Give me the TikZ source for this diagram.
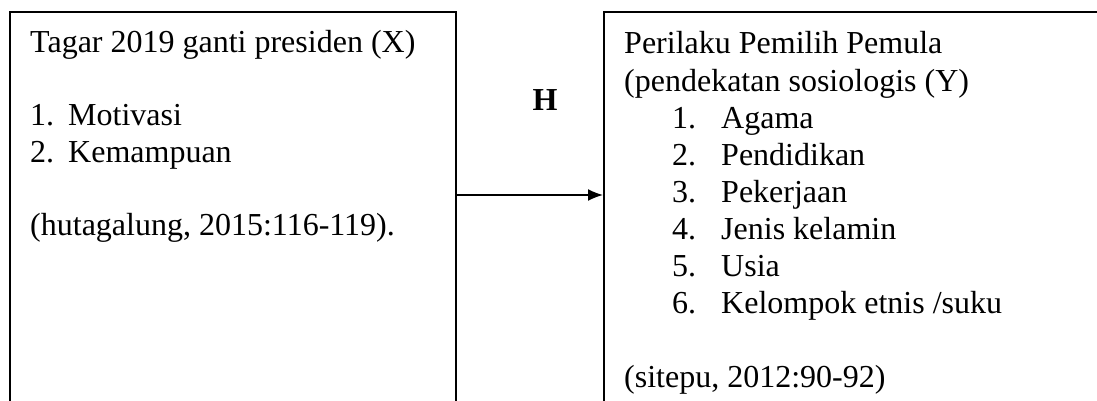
\documentclass[tikz,border=0pt]{standalone}
\usepackage{fontspec}
\setmainfont{Liberation Serif}
\usetikzlibrary{arrows.meta, positioning}

\begin{document}
\begin{tikzpicture}[
    x=1pt, y=1pt,
    every node/.style={font=\fontsize{32}{37}\selectfont, inner sep=0pt},
    box/.style={draw, rectangle, line width=1.6pt, anchor=north west},
    txt/.style={anchor=base west},
    conn/.style={line width=1.6pt, -{Latex[length=15pt, width=12pt]}}
]
\useasboundingbox (0,0) rectangle (1097,400);
\clip (0,0) rectangle (1097,400);

% Boxes (running past the bottom edge)
\node[box, minimum width=446pt, minimum height=420pt] (xbox) at (9,389) {};
\node[box, minimum width=540pt, minimum height=420pt] (ybox) at (603,389) {};

% Variable X
\node[txt] (xtitle) at (30,348) {Tagar 2019 ganti presiden (X)};
\node[txt] (xn1) at (30,275) {1.};
\node[txt] (xi1) at (68,275) {Motivasi};
\node[txt] (xn2) at (30,238) {2.};
\node[txt] (xi2) at (68,238) {Kemampuan};
\node[txt] (xsrc) at (30,165) {(hutagalung, 2015:116-119).};

% Variable Y
\node[txt] (ytitle) at (624,346) {Perilaku Pemilih Pemula};
\node[txt] (ysub) at (624,309) {(pendekatan sosiologis (Y)};
\node[txt] (yn1) at (672,272) {1.};
\node[txt] (yi1) at (721,272) {Agama};
\node[txt] (yn2) at (672,235) {2.};
\node[txt] (yi2) at (721,235) {Pendidikan};
\node[txt] (yn3) at (672,198) {3.};
\node[txt] (yi3) at (721,198) {Pekerjaan};
\node[txt] (yn4) at (672,161) {4.};
\node[txt] (yi4) at (721,161) {Jenis kelamin};
\node[txt] (yn5) at (672,124) {5.};
\node[txt] (yi5) at (721,124) {Usia};
\node[txt] (yn6) at (672,87) {6.};
\node[txt] (yi6) at (721,87) {Kelompok etnis /suku};
\node[txt] (ysrc) at (624,13) {(sitepu, 2012:90-92)};

% Hypothesis arrow
\node[anchor=base, font=\fontsize{32}{37}\selectfont\bfseries] (hyp) at (545,290) {H};
\coordinate (mid) at (0,205);
\draw[conn] (xbox.east |- mid) -- (ybox.west |- mid);
\end{tikzpicture}
\end{document}
